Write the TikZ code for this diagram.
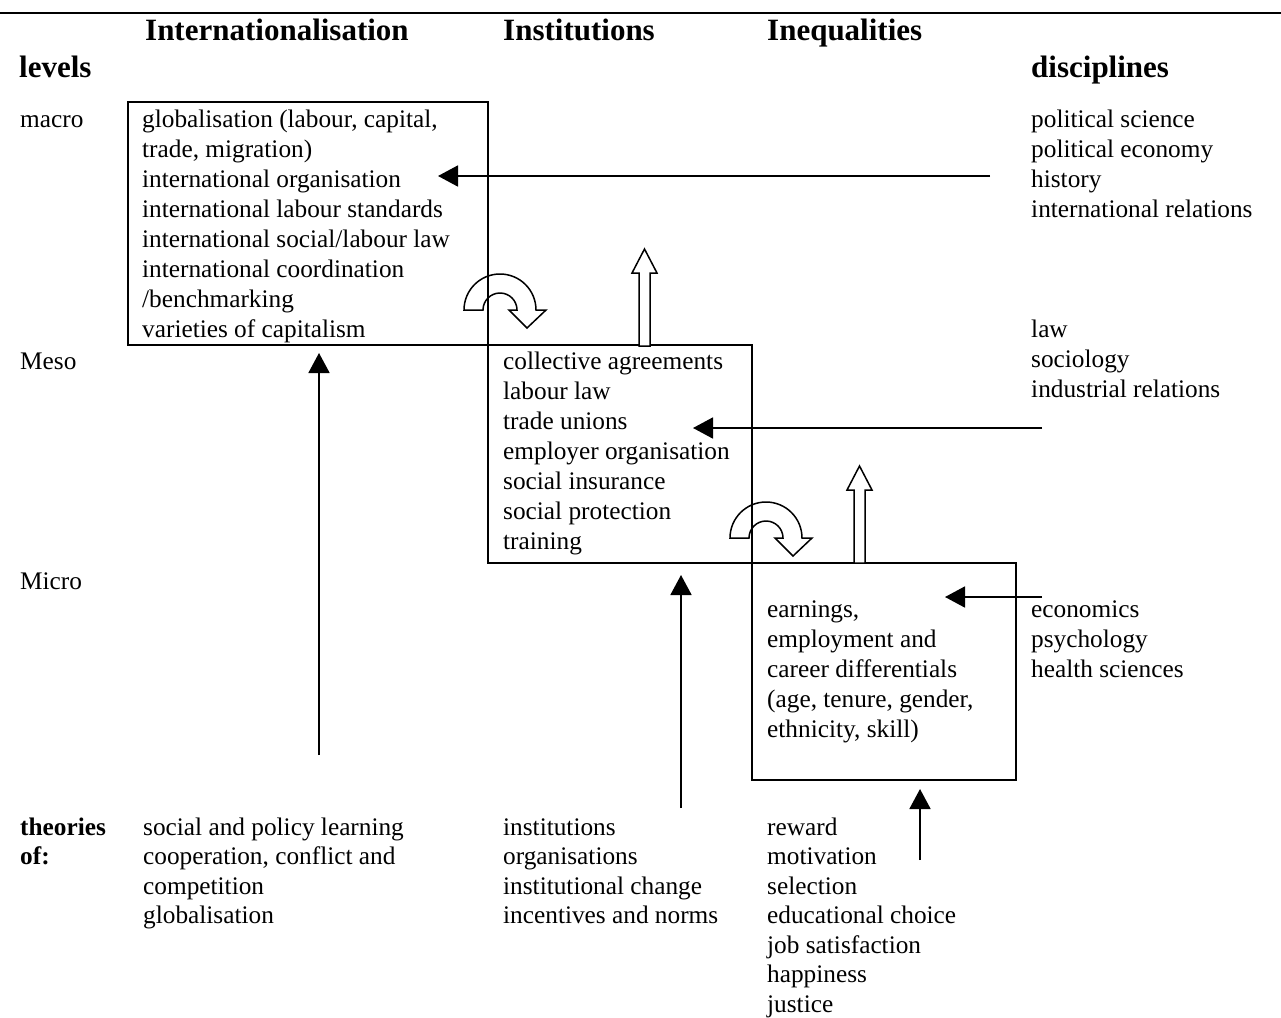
\documentclass[tikz,border=0pt]{standalone}
\usepackage{fontspec}
\setmainfont{Liberation Serif}
\usetikzlibrary{arrows.meta}
\begin{document}
\begin{tikzpicture}[x=1pt,y=-1pt,
  txt/.style={anchor=base west, inner sep=0pt, font=\fontsize{25.3}{30}\selectfont},
  bld/.style={anchor=base west, inner sep=0pt, font=\fontsize{25.3}{30}\selectfont\bfseries},
  head/.style={anchor=base west, inner sep=0pt, font=\fontsize{31}{36}\selectfont\bfseries},
  box/.style={draw, line width=2pt, inner sep=0pt, outer sep=0pt},
  conn/.style={line width=1.8pt, -{Triangle[length=20pt,width=21pt]}},
  hollow/.style={draw, line width=1.5pt, fill=white, line join=miter},
  curved/.style={draw, line width=1.5pt, line join=miter}
]
\useasboundingbox (0,0) rectangle (1281,1017);

% top rule
\coordinate (ruleL) at (0,13);
\coordinate (ruleR) at (1281,13);
\draw[line width=2.5pt] (ruleL) -- (ruleR);

% headings
\node[head] (hInt) at (145,40) {Internationalisation};
\node[head] (hIns) at (503,40) {Institutions};
\node[head] (hIneq) at (767,40) {Inequalities};
\node[head] (hLev) at (19,77) {levels};
\node[head] (hDis) at (1031,77) {disciplines};

% level labels
\node[txt] (lMacro) at (20,127) {macro};
\node[txt] (lMeso) at (20,369) {Meso};
\node[txt] (lMicro) at (20,589) {Micro};

% boxes
\node[box, minimum width=360pt, minimum height=243pt] (b1) at (308,223.5) {};
\node[box, minimum width=264pt, minimum height=218pt] (b2) at (620,454) {};
\node[box, minimum width=264pt, minimum height=217pt] (b3) at (884,671.5) {};

% box texts
\foreach \t [count=\i from 0] in {{globalisation (labour, capital,},{trade, migration)},{international organisation},{international labour standards},{international social/labour law},{international coordination},{/benchmarking},{varieties of capitalism}}
  \node[txt] (bA\i) at (142,{127+30*\i}) {\t};
\foreach \t [count=\i from 0] in {{collective agreements},{labour law},{trade unions},{employer organisation},{social insurance},{social protection},{training}}
  \node[txt] (bB\i) at (503,{369+30*\i}) {\t};
\foreach \t [count=\i from 0] in {{earnings,},{employment and},{career differentials},{(age, tenure, gender,},{ethnicity, skill)}}
  \node[txt] (bC\i) at (767,{617+30*\i}) {\t};

% disciplines
\foreach \t [count=\i from 0] in {{political science},{political economy},{history},{international relations}}
  \node[txt] (dA\i) at (1031,{127+30*\i}) {\t};
\foreach \t [count=\i from 0] in {{law},{sociology},{industrial relations}}
  \node[txt] (dB\i) at (1031,{337+30*\i}) {\t};
\foreach \t [count=\i from 0] in {{economics},{psychology},{health sciences}}
  \node[txt] (dC\i) at (1031,{617+30*\i}) {\t};

% theories
\node[bld] (th1) at (20,835) {theories};
\node[bld] (th2) at (20,864.5) {of:};
\foreach \t [count=\i from 0] in {{social and policy learning},{cooperation, conflict and},{competition},{globalisation}}
  \node[txt] (tA\i) at (143,{835+29.5*\i}) {\t};
\foreach \t [count=\i from 0] in {{institutions},{organisations},{institutional change},{incentives and norms}}
  \node[txt] (tB\i) at (503,{835+29.5*\i}) {\t};
\foreach \t [count=\i from 0] in {{reward},{motivation},{selection},{educational choice},{job satisfaction},{happiness},{justice}}
  \node[txt] (tC\i) at (767,{835+29.5*\i}) {\t};

% horizontal connectors from disciplines
\coordinate (hA1) at (990,176);  \coordinate (hA2) at (438,176);
\coordinate (hB1) at (1042,428); \coordinate (hB2) at (693,428);
\coordinate (hC1) at (1042,597); \coordinate (hC2) at (945,597);
\draw[conn] (hA1) -- (hA2);
\draw[conn] (hB1) -- (hB2);
\draw[conn] (hC1) -- (hC2);

% vertical connectors from theories
\coordinate (vA1) at (319,755); \coordinate (vA2) at (319,353);
\coordinate (vB1) at (681,808); \coordinate (vB2) at (681,575);
\coordinate (vC1) at (920,860); \coordinate (vC2) at (920,789);
\draw[conn] (vA1) -- (vA2);
\draw[conn] (vB1) -- (vB2);
\draw[conn] (vC1) -- (vC2);

% hollow upward arrows
\draw[hollow] (639,346) -- (639,273) -- (632,273) -- (644.5,249) -- (657,273) -- (650,273) -- (650,346) -- cycle;
\draw[hollow] (854,563) -- (854,490) -- (847,490) -- (859.5,466) -- (872,490) -- (865,490) -- (865,563) -- cycle;

% curved arrows
\draw[curved] (464,310) arc[start angle=180, end angle=360, radius=36] -- (546,310) -- (527,328) -- (509,310) -- (517,310) arc[start angle=0, end angle=-180, radius=17] -- cycle;
\draw[curved] (730,538) arc[start angle=180, end angle=360, radius=36] -- (812,538) -- (793,556) -- (775,538) -- (783,538) arc[start angle=0, end angle=-180, radius=17] -- cycle;
\end{tikzpicture}
\end{document}
